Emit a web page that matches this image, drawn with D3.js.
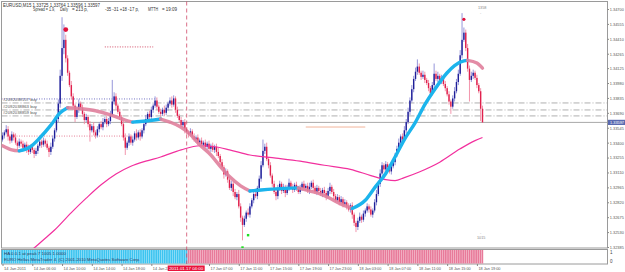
<!DOCTYPE html>
<html>
<head>
<meta charset="utf-8">
<script src="https://cdn.jsdelivr.net/npm/d3@7"></script>
<style>
  body { margin: 0; background: #fff; }
  text { font-family: "Liberation Sans", Arial, sans-serif; }
</style>
</head>
<body>
<div id="chart"></div>
<script>
// EURUSD M15, prices kept as pips above 1.3200
var basePrice = 1.32;
var firstOpen = 143;

var closes = [
  147,150,153,146,142,148,145,140,137,141, 139,135,138,134,131,136,133,129,132,137,
  141,138,142,139,135,131,136,144,152,163, 178,205,232,240,222,208,196,185,176,165,
  172,178,174,168,162,165,158,152,156,150, 147,153,158,155,160,163,158,161,167,180,
  185,176,170,165,158,145,135,140,146,140, 143,149,145,150,146,152,158,163,168,165,
  172,176,181,175,170,168,172,169,174,178, 181,177,183,172,166,162,157,160,153,150,
  148,151,146,143,145,140,142,138,140,136, 139,134,137,133,136,131,127,121,116,109,
  112,104,96,100,92,87,90,78,67,60,        66,72,70,78,84,90,88,96,105,118,
  132,136,124,118,108,100,92,88,95,100,    93,97,91,96,101,97,94,99,96,92,
  96,100,96,98,93,97,101,96,92,96,         93,90,94,91,88,93,97,92,88,84,
  87,82,85,80,82,78,75,79,70,62,           58,64,68,65,71,74,78,75,70,74,
  82,90,100,110,118,114,119,116,112,117,   121,128,134,140,146,143,152,160,170,181,
  192,202,209,214,208,204,206,201,198,193, 188,196,207,202,205,200,203,197,193,187,
  180,175,183,190,199,207,225,240,247,232, 212,201,205,208,203,196,190,173,159.7
];

var upperWicks = [
  3,2,4,3,2,3,2,4,2,3, 2,3,2,3,4,2,3,2,3,2, 3,2,3,2,3,2,4,3,2,3, 4,6,30,15,5,3,2,4,3,2,
  3,4,2,3,2,3,2,3,2,4, 2,3,2,3,4,2,3,3,4,21, 4,3,2,3,2,3,4,2,3,2, 3,2,4,2,3,2,3,4,2,3,
  3,2,4,3,2,3,2,4,3,2, 3,4,3,2,3,2,3,2,3,2, 2,3,2,3,2,3,2,3,2,3, 2,3,2,3,2,3,4,2,3,2,
  3,2,4,3,2,3,2,4,3,2, 3,2,4,3,2,3,4,2,3,4, 11,3,4,2,3,2,3,2,4,3, 2,3,2,3,4,2,3,2,3,2,
  3,2,3,2,3,4,2,3,2,3, 2,3,2,3,2,3,4,2,3,2, 3,2,3,2,3,2,3,2,3,2, 2,3,4,2,3,2,3,2,3,2,
  3,4,3,4,3,2,3,2,3,2, 3,2,3,4,2,3,4,3,4,3, 4,3,4,7,3,2,4,3,2,3, 2,3,10,3,4,2,3,2,3,2,
  3,2,3,4,3,4,5,26,5,3, 4,3,4,3,2,3,2,3,3
];

var lowerWicks = [
  2,3,2,4,3,2,3,2,4,2, 3,2,3,4,3,2,3,4,2,3, 2,3,2,3,2,5,3,2,3,2, 3,4,5,6,4,3,2,3,2,5,
  2,3,2,3,4,2,3,11,2,3, 3,2,3,2,3,2,3,2,3,2, 3,4,2,3,2,3,7,2,3,2, 3,2,3,2,4,2,3,2,3,2,
  2,3,2,3,2,3,2,3,2,3, 2,3,2,3,2,3,2,3,4,2, 3,2,3,2,3,2,3,2,3,2, 3,2,3,2,3,4,2,3,2,4,
  2,3,2,3,4,2,3,2,4,15, 2,3,2,3,2,3,2,3,2,3, 2,3,2,3,2,3,2,4,3,2, 3,2,4,2,3,2,3,2,3,2,
  2,3,2,3,2,3,2,3,2,3, 3,2,3,2,4,2,3,2,3,2, 2,3,2,3,2,3,2,3,4,3, 5,3,2,3,2,3,2,3,2,3,
  2,3,2,3,2,3,2,3,2,3, 2,3,2,3,2,3,2,3,2,3, 2,3,2,3,2,3,2,3,2,3, 3,2,3,2,3,2,3,2,3,2,
  3,7,2,3,2,3,2,3,2,3, 3,21,2,3,2,3,2,12,0
];

// fast MA (colour follows its direction), sampled at bar indices
var fastIdx = [0,5,9,15,20,26,31,35,42,50,58,66,70,77,85,90,96,101,106,112,117,122,128,133,
  139,147,159,165,171,176,181,188,195,200,206,211,216,222,227,232,239,243,248,250,255,258];
var fastVal = [137,133,132,136,144.5,157,169,174,173,171,167,162,160,161,163,160,155,148,138,128,117,107,98,93,
  94,95,96,93,90,86,81,76,84,96,110,126,143,160,177,191,208,215,219.5,220,217.5,212.5];

// slow MA
var slowIdx = [13,17,23,28,37,45,53,61,69,77,85,96,106,114,122,133,147,160,173,187,198,206,211,216,224,235,246,254,258];
var slowVal = [32,37.5,47,55,72,86,99,109.5,117,122,126,133,137,136,133,128,125,122,118,114,108,104,103,106,111.5,121,134,142,145];

// lower window histogram runs
var histRunStart = [0, 100];
var histRunEnd = [99, 258];
var histRunUp = [1, 0];

var priceTicks = [1.34700,1.34555,1.34410,1.34265,1.34125,1.33980,1.33835,1.33690,1.33545,
  1.33400,1.33255,1.33110,1.32965,1.32820,1.32675,1.32530,1.32385];
var timeTickIdx = [0,16,32,48,64,80,111,127,143,159,175,191,207,223,239,255];
var timeTickLabels = ["14 Jan 2011","14 Jan 06:00","14 Jan 10:00","14 Jan 14:00","14 Jan 18:00","14 Jan 22:00",
  "17 Jan 07:00","17 Jan 11:00","17 Jan 15:00","17 Jan 19:00","17 Jan 23:00","18 Jan 03:00",
  "18 Jan 07:00","18 Jan 11:00","18 Jan 15:00","18 Jan 19:00"];
var crossIdx = 99;
var crossLabel = "2011.01.17 04:00";

var bidPrice = 1.33597;
var orderPrices = [1.33786, 1.33718, 1.33660];
var orderLabels = ["#2092038157 buy", "#2092038863 buy", "#2092038859 buy"];
var upFractals = [[34, 250], [248, 260]];
var downFractals = [[132, 50], [129, 38]];

// Set dimensions
var svgWidth = 625;
var svgHeight = 272;
var plot = {left: 1.5, right: 607.5, top: 1.5, bottom: 248};
var panel = {top: 249.5, bottom: 264};

var svg = d3.select("#chart")
  .append("svg")
  .attr("width", svgWidth)
  .attr("height", svgHeight)
  .style("display", "block");

svg.append("defs").append("clipPath").attr("id", "clip")
  .append("rect")
  .attr("x", plot.left).attr("y", plot.top)
  .attr("width", plot.right - plot.left).attr("height", plot.bottom - plot.top);

var xScale = d3.scaleLinear().domain([0, closes.length - 1]).range([2.5, 482.5]);
var yScale = d3.scaleLinear().domain([1.32385, 1.34700]).range([247, 9]);
function py(v) { return yScale(basePrice + v / 10000); }

// squeeze a text to the width it has in the screenshot
function fit(sel, w) {
  return sel.attr("textLength", w).attr("lengthAdjust", "spacingAndGlyphs");
}

// frames
svg.append("rect")
  .attr("x", plot.left).attr("y", plot.top)
  .attr("width", plot.right - plot.left).attr("height", plot.bottom - plot.top)
  .attr("fill", "#fff").attr("stroke", "#9a9a9a").attr("stroke-width", 1);

var main = svg.append("g").attr("clip-path", "url(#clip)");

// level lines
main.append("line")
  .attr("x1", plot.left).attr("x2", plot.right)
  .attr("y1", yScale(bidPrice)).attr("y2", yScale(bidPrice))
  .attr("stroke", "#a8a8a8").attr("stroke-width", 1);

orderPrices.forEach(function(p, k) {
  main.append("line")
    .attr("x1", plot.left).attr("x2", plot.right)
    .attr("y1", yScale(p)).attr("y2", yScale(p))
    .attr("stroke", "#9a9a9a").attr("stroke-width", 0.8)
    .attr("stroke-dasharray", "6,2,1,2");
  fit(main.append("text")
    .attr("x", 3).attr("y", yScale(p) - 1.6)
    .attr("font-size", "4.3px").attr("fill", "#555")
    .text(orderLabels[k]), 34);
});

main.append("line")
  .attr("x1", plot.left).attr("x2", xScale(83))
  .attr("y1", yScale(1.33825)).attr("y2", yScale(1.33825))
  .attr("stroke", "#5050b8").attr("stroke-width", 0.8).attr("stroke-dasharray", "1,1.5");
main.append("line")
  .attr("x1", plot.left).attr("x2", xScale(76))
  .attr("y1", yScale(1.33464)).attr("y2", yScale(1.33464))
  .attr("stroke", "#e0607e").attr("stroke-width", 0.8).attr("stroke-dasharray", "1,1.5");
main.append("line")
  .attr("x1", xScale(55)).attr("x2", xScale(81))
  .attr("y1", yScale(1.34331)).attr("y2", yScale(1.34331))
  .attr("stroke", "#c82040").attr("stroke-width", 0.8).attr("stroke-dasharray", "1,1.5");
main.append("line")
  .attr("x1", xScale(163)).attr("x2", xScale(195))
  .attr("y1", yScale(1.33552)).attr("y2", yScale(1.33552))
  .attr("stroke", "#f2b49a").attr("stroke-width", 1);

// candles
var bars = closes.map(function(c, i) {
  var o = i === 0 ? firstOpen : closes[i - 1];
  return {i: i, o: o, c: c,
    h: Math.max(o, c) + upperWicks[i],
    l: Math.min(o, c) - lowerWicks[i]};
});

main.selectAll(".wick").data(bars).enter().append("line")
  .attr("x1", d => xScale(d.i)).attr("x2", d => xScale(d.i))
  .attr("y1", d => py(d.h)).attr("y2", d => py(d.l))
  .attr("stroke", d => d.c >= d.o ? "#8a8ad6" : "#f08aa4")
  .attr("stroke-width", 0.9);

main.selectAll(".body").data(bars).enter().append("rect")
  .attr("x", d => xScale(d.i) - 0.7)
  .attr("width", 1.4)
  .attr("y", d => py(Math.max(d.o, d.c)))
  .attr("height", d => Math.max(0.8, Math.abs(py(d.o) - py(d.c))))
  .attr("fill", d => d.c >= d.o ? "#1e1e98" : "#e0204c");

// slow MA
var slowLine = d3.line()
  .x((d, k) => xScale(slowIdx[k]))
  .y(d => py(d))
  .curve(d3.curveMonotoneX);
main.append("path")
  .attr("d", slowLine(slowVal))
  .attr("fill", "none").attr("stroke", "#f2309e").attr("stroke-width", 1.2);

// fast MA, split into runs by direction
var runs = [];
for (var k = 0; k < fastVal.length - 1; k++) {
  var up = fastVal[k + 1] >= fastVal[k];
  var last = runs[runs.length - 1];
  if (last && last.up === up) {
    last.pts.push([fastIdx[k + 1], fastVal[k + 1]]);
  } else {
    runs.push({up: up, pts: [[fastIdx[k], fastVal[k]], [fastIdx[k + 1], fastVal[k + 1]]]});
  }
}
var fastLine = d3.line()
  .x(d => xScale(d[0]))
  .y(d => py(d[1]))
  .curve(d3.curveMonotoneX);
main.selectAll(".fast").data(runs).enter().append("path")
  .attr("d", d => fastLine(d.pts))
  .attr("fill", "none")
  .attr("stroke", d => d.up ? "#1cb4ec" : "#e0809c")
  .attr("stroke-opacity", d => d.up ? 1 : 0.9)
  .attr("stroke-width", 3.4)
  .attr("stroke-linecap", "round");

// fractal dots
main.selectAll(".upf").data(upFractals).enter().append("circle")
  .attr("cx", d => xScale(d[0])).attr("cy", d => py(d[1]))
  .attr("r", (d, k) => k === 0 ? 2.4 : 1.6)
  .attr("fill", "#e0103c");
main.selectAll(".dnf").data(downFractals).enter().append("rect")
  .attr("x", d => xScale(d[0]) - 1.2).attr("y", d => py(d[1]) - 1.2)
  .attr("width", 2.4).attr("height", 2.4)
  .attr("fill", "#22dd22");

// range marks by the last bars
svg.append("text").attr("x", 478).attr("y", 9).attr("font-size", "3.8px").attr("fill", "#888").text("1358");
svg.append("text").attr("x", 480).attr("y", 14).attr("font-size", "3.8px").attr("fill", "#888").text("-");
svg.append("text").attr("x", 480).attr("y", 234).attr("font-size", "3.8px").attr("fill", "#888").text("-");
svg.append("text").attr("x", 477).attr("y", 239).attr("font-size", "3.8px").attr("fill", "#888").text("1015");

// lower window
svg.append("rect")
  .attr("x", plot.left).attr("y", panel.top)
  .attr("width", plot.right - plot.left).attr("height", panel.bottom - panel.top)
  .attr("fill", "#fff").attr("stroke", "#9a9a9a").attr("stroke-width", 1);

var histScale = d3.scaleLinear().domain([0, 1]).range([panel.bottom - 0.5, panel.top + 0.5]);
var histBars = [];
histRunStart.forEach(function(s, r) {
  for (var i = s; i <= histRunEnd[r]; i++) histBars.push({i: i, up: histRunUp[r]});
});
svg.selectAll(".hist").data(histBars).enter().append("rect")
  .attr("x", d => xScale(d.i) - 0.9)
  .attr("width", 1.6)
  .attr("y", histScale(1))
  .attr("height", histScale(0) - histScale(1))
  .attr("fill", d => d.up ? "#3cc4f0" : "#e87a9a");

fit(svg.append("text").attr("x", 4).attr("y", 254.6).attr("font-size", "4.3px").attr("fill", "#333a60")
  .text("HA 0.0.1 at peak 7  1005  1.0000"), 62);
fit(svg.append("text").attr("x", 4).attr("y", 261).attr("font-size", "4.3px").attr("fill", "#333a60")
  .text("EURO Hellas   MetaTrader 4. (C) 2001-2010 MetaQuotes Software Corp."), 136);
svg.append("text").attr("x", 610).attr("y", 254).attr("font-size", "4.5px").attr("fill", "#444").text("1");
svg.append("text").attr("x", 610).attr("y", 262.5).attr("font-size", "4.5px").attr("fill", "#444").text("0");

// period separator
svg.append("line")
  .attr("x1", xScale(crossIdx)).attr("x2", xScale(crossIdx))
  .attr("y1", plot.top).attr("y2", panel.bottom)
  .attr("stroke", "#d04a6a").attr("stroke-width", 0.8).attr("stroke-dasharray", "4,3");

// price axis
var rightAxis = d3.axisRight(yScale)
  .tickValues(priceTicks)
  .tickFormat(d3.format(".5f"))
  .tickSize(1.5).tickPadding(0.8);
var yAxisG = svg.append("g")
  .attr("transform", "translate(" + plot.right + ",0)")
  .call(rightAxis);
yAxisG.select(".domain").remove();
yAxisG.selectAll("line").attr("stroke", "#888");
fit(yAxisG.selectAll("text").attr("font-size", "4.3px").attr("fill", "#555")
  .attr("font-family", "Liberation Sans, Arial, sans-serif"), 14);

svg.append("rect")
  .attr("x", 608).attr("y", yScale(bidPrice) - 2.6)
  .attr("width", 17).attr("height", 5.2).attr("fill", "#5a6ab0");
fit(svg.append("text")
  .attr("x", 610).attr("y", yScale(bidPrice) + 1.6)
  .attr("font-size", "4.3px").attr("fill", "#fff").text(d3.format(".5f")(bidPrice)), 14);

// time axis
var bottomAxis = d3.axisBottom(xScale)
  .tickValues(timeTickIdx)
  .tickFormat((d, k) => timeTickLabels[k])
  .tickSize(2).tickPadding(1);
var xAxisG = svg.append("g")
  .attr("transform", "translate(0," + panel.bottom + ")")
  .call(bottomAxis);
xAxisG.select(".domain").remove();
xAxisG.selectAll("line").attr("stroke", "#888");
fit(xAxisG.selectAll("text").attr("font-size", "4.2px").attr("fill", "#555")
  .attr("text-anchor", "start").attr("dx", "1px")
  .attr("font-family", "Liberation Sans, Arial, sans-serif"), 22);

svg.append("rect")
  .attr("x", xScale(crossIdx) - 19).attr("y", 265.5)
  .attr("width", 37).attr("height", 5.5).attr("fill", "#e8143c");
fit(svg.append("text")
  .attr("x", xScale(crossIdx) - 17.5).attr("y", 269.7)
  .attr("font-size", "4.2px").attr("fill", "#fff").text(crossLabel), 34);

// title block
fit(svg.append("text").attr("x", 3).attr("y", 7).attr("font-size", "4.6px").attr("fill", "#333")
  .text("EURUSD,M15  1.33725 1.33764 1.33596 1.33597"), 97);
var info = [[33, "Spread = 1.9,", 22], [60, "Daily", 8], [72, "= 213 p,", 16],
  [105, "-35 -31 +18 -17 p,", 34], [148, "MTTH", 10], [162, "= 19:09", 15]];
info.forEach(function(t) {
  fit(svg.append("text").attr("x", t[0]).attr("y", 11).attr("font-size", "4.6px").attr("fill", "#333").text(t[1]), t[2]);
});
</script>
</body>
</html>
